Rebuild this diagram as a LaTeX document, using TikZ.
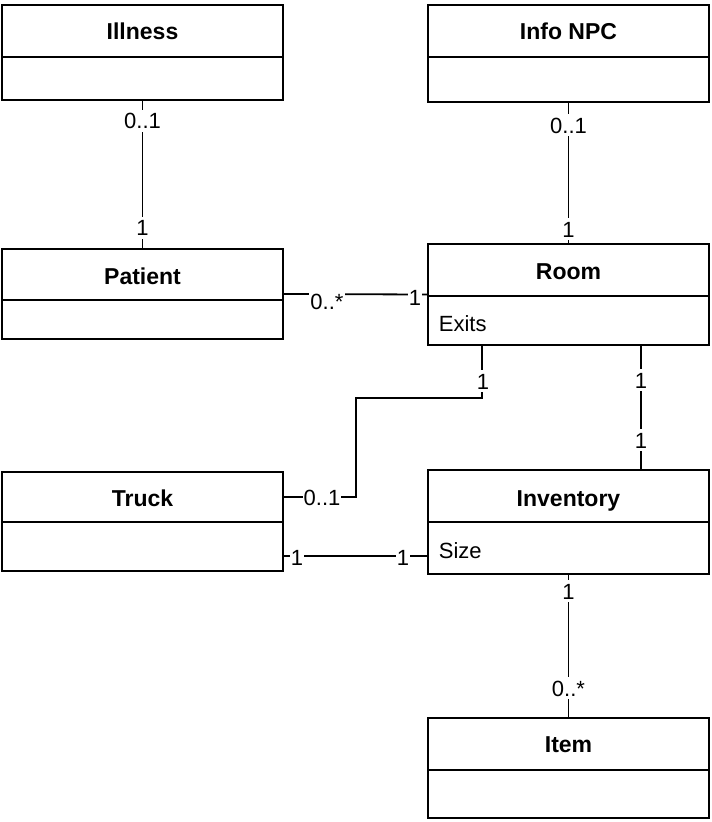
\documentclass[tikz,border=0pt]{standalone}
\usepackage{fontspec}
\setmainfont{Liberation Sans}
\begin{document}
\begin{tikzpicture}[x=1pt,y=-1pt,
  line width=1.8pt,
  classbox/.style={draw, minimum width=281pt, inner sep=0pt},
  title/.style={font=\fontsize{23}{27}\selectfont\bfseries, inner sep=0pt, anchor=base},
  attr/.style={font=\fontsize{22}{26}\selectfont, inner sep=0pt, anchor=base west},
  mult/.style={font=\fontsize{22}{26}\selectfont, fill=white, inner xsep=1pt, inner ysep=3pt, text height=16pt, text depth=0pt}]
\useasboundingbox (0,0) rectangle (712,822);
% classes
\node[classbox, minimum height=95pt] (illness) at (142.5,52.5) {};
\node[classbox, minimum height=97pt] (infonpc) at (568.5,53.5) {};
\node[classbox, minimum height=90pt] (patient) at (142.5,294) {};
\node[classbox, minimum height=101pt] (room) at (568.5,294.5) {};
\node[classbox, minimum height=99pt] (truck) at (142.5,521.5) {};
\node[classbox, minimum height=104pt] (inventory) at (568.5,522) {};
\node[classbox, minimum height=100pt] (item) at (568.5,768) {};
% dividers
\draw (illness.west |- 0,57) -- (illness.east |- 0,57);
\draw (infonpc.west |- 0,57) -- (infonpc.east |- 0,57);
\draw (patient.west |- 0,300) -- (patient.east |- 0,300);
\draw (room.west |- 0,296) -- (room.east |- 0,296);
\draw (truck.west |- 0,522) -- (truck.east |- 0,522);
\draw (inventory.west |- 0,522) -- (inventory.east |- 0,522);
\draw (item.west |- 0,770) -- (item.east |- 0,770);
% titles
\node[title] (tillness) at (142.5,39.5) {Illness};
\node[title] (tinfonpc) at (568.5,39.5) {Info NPC};
\node[title] (tpatient) at (142.5,284.5) {Patient};
\node[title] (troom) at (568.5,279.5) {Room};
\node[title] (ttruck) at (142.5,506.5) {Truck};
\node[title] (tinventory) at (568.5,506.5) {Inventory};
\node[title] (titem) at (568.5,752.5) {Item};
% attributes
\node[attr] (aexits) at (438,331.5) {Exits};
\node[attr] (asize) at (438,558) {Size};
% connectors
\coordinate (bend) at (356,398);
\draw (illness) -- (patient);
\draw (infonpc) -- (room);
\draw (patient.east) -- (room.west);
\draw ([xshift=55pt]room.south west) |- (bend) |- ([yshift=24.5pt]truck.east);
\draw ([xshift=72.5pt]room.south) -- ([xshift=72.5pt]inventory.north);
\draw ([yshift=-34.5pt]truck.east) -- ([yshift=-34pt]inventory.west);
\draw (inventory) -- (item);
% multiplicities
\node[mult] (m1) at (142.5,120.5) {0..1};
\node[mult] (m2) at (142.5,227.5) {1};
\node[mult] (m3) at (568.5,125) {0..1};
\node[mult] (m4) at (568.5,229) {1};
\node[mult] (m5) at (327,301) {0..*};
\node[mult] (m6) at (415,297) {1};
\node[mult] (m7) at (483,381) {1};
\node[mult] (m8) at (322,497) {0..1};
\node[mult] (m9) at (641,380) {1};
\node[mult] (m10) at (641,440) {1};
\node[mult] (m11) at (297,557) {1};
\node[mult] (m12) at (403,557) {1};
\node[mult] (m13) at (568.5,591) {1};
\node[mult] (m14) at (568.5,688) {0..*};
\end{tikzpicture}
\end{document}
